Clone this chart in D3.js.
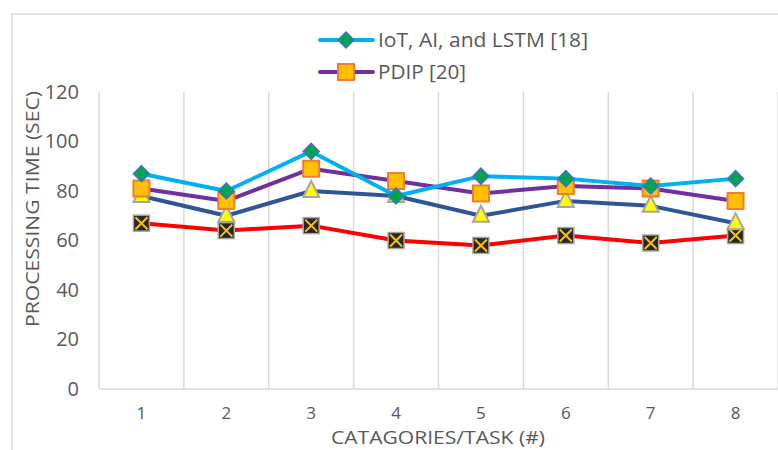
<!DOCTYPE html>
<html><head><meta charset="utf-8">
<script src="https://cdn.jsdelivr.net/npm/d3@7"></script>
<style>body{margin:0;background:#fff}svg{display:block}</style>
</head><body>
<svg id="c" width="778" height="450"></svg>
<script>
const categories = ["1","2","3","4","5","6","7","8"];
const yTicks = [0,20,40,60,80,100,120];
const iotAiLstm = [87,80,96,78,86,85,82,85];
const pdip = [81,76,89,84,79,82,81,76];
const seriesC = [78,70,80,78,70,76,74,67];
const seriesD = [67,64,66,60,58,62,59,62];
const seriesNames = ["IoT, AI, and LSTM [18]","PDIP [20]"];

const svg = d3.select("#c");
const font = "'Open Sans', sans-serif";
// chart border
svg.append("path").attr("d","M12,450 V14 H778").attr("fill","none").attr("stroke","#d9d9d9").attr("stroke-width",1.5);

const x = d3.scaleBand().domain(categories).range([99,778]);
const y = d3.scaleLinear().domain([0,120]).range([389,92]);

// vertical gridlines at band boundaries
const bounds = categories.map(c=>x(c)).concat([x.range()[1]]);
svg.append("g").selectAll("line").data(bounds).join("line")
  .attr("x1",d=>d).attr("x2",d=>d).attr("y1",y(120)).attr("y2",y(0))
  .attr("stroke","#d9d9d9").attr("stroke-width",1.5);
svg.append("line").attr("x1",99).attr("x2",778).attr("y1",y(0)).attr("y2",y(0)).attr("stroke","#d9d9d9").attr("stroke-width",1.5);

// y axis
const ya = svg.append("g").attr("transform","translate(99,0)").call(d3.axisLeft(y).tickValues(yTicks).tickSize(0).tickPadding(20));
ya.select(".domain").remove();
ya.selectAll("text").attr("font-family",font).attr("font-size",20).attr("fill","#595959");
// x axis
const xa = svg.append("g").attr("transform","translate(0,"+y(0)+")").call(d3.axisBottom(x).tickSize(0).tickPadding(18));
xa.select(".domain").remove();
xa.selectAll("text").attr("font-family",font).attr("font-size",17).attr("fill","#595959");

svg.append("text").attr("x",438).attr("y",444).attr("text-anchor","middle")
  .attr("font-family",font).attr("font-size",18).attr("textLength",214).attr("lengthAdjust","spacingAndGlyphs")
  .attr("fill","#595959").text("CATAGORIES/TASK (#)");
svg.append("text").attr("transform","translate(39,209) rotate(-90)").attr("text-anchor","middle")
  .attr("font-family",font).attr("font-size",19).attr("textLength",236).attr("lengthAdjust","spacingAndGlyphs")
  .attr("fill","#595959").text("PROCESSING TIME (SEC)");

const cx = d => x(d) + x.bandwidth()/2;
const line = d3.line().x((d,i)=>cx(categories[i])).y(d=>y(d));

function drawSeries(vals,color,marker){
  svg.append("path").datum(vals).attr("d",line).attr("fill","none").attr("stroke",color).attr("stroke-width",4).attr("stroke-linejoin","round");
  const g = svg.append("g");
  vals.forEach((v,i)=>marker(g,cx(categories[i]),y(v)));
}
function diamond(g,px,py){
  g.append("path").attr("d",`M${px},${py-8}L${px+8},${py}L${px},${py+8}L${px-8},${py}Z`).attr("fill","#00A550").attr("stroke","#4472C4").attr("stroke-width",1.5);
}
function square(g,px,py){
  g.append("rect").attr("x",px-8).attr("y",py-8).attr("width",16).attr("height",16).attr("fill","#FFC000").attr("stroke","#ED7D31").attr("stroke-width",2);
}
function triangle(g,px,py){
  g.append("path").attr("d",`M${px},${py-10}L${px+8},${py+6}L${px-8},${py+6}Z`).attr("fill","#FFFF00").attr("stroke","#A5A5A5").attr("stroke-width",2);
}
function xsq(g,px,py){
  g.append("rect").attr("x",px-8).attr("y",py-8).attr("width",16).attr("height",16).attr("fill","#262626").attr("stroke","#A5A5A5").attr("stroke-width",1.5);
  g.append("path").attr("d",`M${px-6},${py-6}L${px+6},${py+6}M${px+6},${py-6}L${px-6},${py+6}`).attr("stroke","#FFC000").attr("stroke-width",2);
}
drawSeries(seriesD,"#FF0000",xsq);
drawSeries(seriesC,"#2F5597",triangle);
drawSeries(pdip,"#7030A0",square);
drawSeries(iotAiLstm,"#00B0F0",diamond);

// legend
const leg = [[seriesNames[0],"#00B0F0",diamond,40,210],[seriesNames[1],"#7030A0",square,72,88]];
leg.forEach(([name,color,m,ly,tl])=>{
  svg.append("line").attr("x1",320).attr("x2",373).attr("y1",ly).attr("y2",ly).attr("stroke",color).attr("stroke-width",4).attr("stroke-linecap","round");
  m(svg,346,ly);
  svg.append("text").attr("x",378).attr("y",ly+7).attr("font-family",font).attr("font-size",20).attr("textLength",tl).attr("lengthAdjust","spacingAndGlyphs")
    .attr("fill","#595959").text(name);
});
</script>
</body></html>
